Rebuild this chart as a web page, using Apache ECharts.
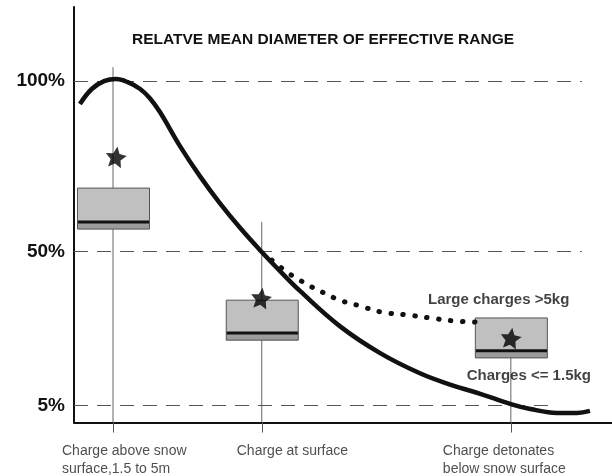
<!DOCTYPE html>
<html>
<head>
<meta charset="utf-8">
<script src="https://cdn.jsdelivr.net/npm/echarts@6/dist/echarts.min.js"></script>
<style>html,body{margin:0;padding:0;background:#fff}#chart{width:612px;height:476px}</style>
</head>
<body>
<div id="chart"></div>
<script>
// ---- data ----
const titleText = 'RELATVE MEAN DIAMETER OF EFFECTIVE RANGE';
const categories = ['Charge above snow\nsurface,1.5 to 5m', 'Charge at surface', 'Charge detonates\nbelow snow surface'];
const categoryX = [7.25, 34.9, 81.2];
const yTicks = [5, 50, 100];
const curveX = [1.1, 3.3, 5.6, 7.8, 10.0, 12.3, 14.1, 16.0, 19.7, 23.4, 27.1, 30.9, 34.9, 38.3, 42.0, 49.4, 56.9, 64.3, 69.9, 75.5, 81.2, 84.8, 89.8, 93.5, 95.9];
const curveY = [93.2, 97.6, 99.9, 100.5, 99.6, 97.6, 94.9, 90.8, 80.9, 72.1, 64.2, 56.9, 49.9, 44.3, 38.5, 28.2, 20.3, 14.4, 11.1, 8.4, 5.4, 3.95, 2.8, 2.8, 3.4];
const largeX = [36.8, 39.6, 41.6, 43.9, 46.1, 49.4, 53.2, 57.2, 61.9, 66.2, 70.8, 74.7];
const largeY = [47.5, 44.0, 42.0, 39.9, 38.2, 35.8, 34.1, 32.3, 31.5, 30.6, 29.7, 29.4];
const whiskerTop = [104.0, 58.7, 30.6];
const boxTop = [68.6, 35.8, 30.6];
const boxMedian = [58.7, 26.2, 21.0];
const boxBottom = [56.6, 24.1, 18.9];
const starX = [7.8, 34.8, 81.2];
const starY = [77.7, 36.4, 24.7];
const annotations = ['Large charges >5kg', 'Charges <= 1.5kg'];
const annotationX = [65.8, 73.0];
const annotationY = [35.8, 13.6];

// ---- styles ----
const labelOffsets = [-51, -25, -68];
const gridEnds = {5: 89.0, 50: 94.4, 100: 94.4};
const starPath = 'path://M50,2 L64.1,32.6 L97.6,36.5 L72.8,59.4 L79.4,92.5 L50,76 L20.6,92.5 L27.2,59.4 L2.4,36.5 L35.9,32.6 Z';

const chart = echarts.init(document.getElementById('chart'), null, {renderer: 'canvas'});

const option = {
  animation: false,
  backgroundColor: '#fff',
  title: {
    text: titleText,
    left: 127, top: 27,
    textStyle: {fontFamily: 'Liberation Sans, Arial, sans-serif', fontSize: 15.5, fontWeight: 'bold', color: '#111'}
  },
  grid: {left: 74, right: 0, top: 7, bottom: 53.5},
  xAxis: {
    type: 'value', min: 0, max: 100,
    axisLine: {show: true, lineStyle: {color: '#111', width: 2}},
    axisTick: {show: true, customValues: categoryX, length: 10, lineStyle: {color: '#555', width: 1}},
    axisLabel: {show: false},
    splitLine: {show: false}
  },
  yAxis: {
    type: 'value', min: 0, max: 121.6,
    axisLine: {show: true, lineStyle: {color: '#111', width: 2}},
    axisTick: {show: false},
    splitLine: {show: false},
    axisLabel: {
      customValues: yTicks,
      formatter: '{value}%',
      margin: 9,
      padding: [0, 0, 10, 0],
      fontFamily: 'Liberation Sans, Arial, sans-serif',
      fontSize: 19, fontWeight: 'bold', color: '#111'
    }
  },
  series: [
    {
      name: 'reference lines',
      type: 'line', data: [], silent: true,
      markLine: {
        silent: true, symbol: 'none', label: {show: false},
        lineStyle: {color: '#555', width: 1, type: [14, 9]},
        data: yTicks.map(v => [{coord: [0, v]}, {coord: [gridEnds[v], v]}])
      }
    },
    {
      name: 'boxes',
      type: 'custom', z: 3,
      data: categoryX.map((x, i) => [x, whiskerTop[i], boxTop[i], boxMedian[i], boxBottom[i]]),
      renderItem: function (params, api) {
        const x = api.value(0);
        const pTop = api.coord([x, api.value(1)]);
        const pBase = api.coord([x, 0]);
        const pBT = api.coord([x, api.value(2)]);
        const pMed = api.coord([x, api.value(3)]);
        const pBB = api.coord([x, api.value(4)]);
        const w = 72;
        const left = pTop[0] - w / 2 + 0.5;
        return {
          type: 'group',
          children: [
            {type: 'line', shape: {x1: pTop[0], y1: pTop[1], x2: pBase[0], y2: pBase[1]}, style: {stroke: '#666', lineWidth: 1}},
            {type: 'rect', shape: {x: left, y: pBT[1], width: w, height: pBB[1] - pBT[1]}, style: {fill: '#c0c0c0', stroke: null}},
            {type: 'rect', shape: {x: left, y: pMed[1], width: w, height: pBB[1] - pMed[1]}, style: {fill: '#9c9c9c', stroke: null}},
            {type: 'line', shape: {x1: left, y1: pMed[1], x2: left + w, y2: pMed[1]}, style: {stroke: '#111', lineWidth: 3}},
            {type: 'rect', shape: {x: left, y: pBT[1], width: w, height: pBB[1] - pBT[1]}, style: {fill: null, stroke: '#555', lineWidth: 1}}
          ]
        };
      }
    },
    {
      name: 'Large charges',
      type: 'line', smooth: 0.4, showSymbol: false, z: 4,
      data: largeX.map((x, i) => [x, largeY[i]]),
      lineStyle: {color: '#111', width: 5, type: [0.5, 11.5], cap: 'round'}
    },
    {
      name: 'Mean diameter',
      type: 'line', smooth: 0.4, showSymbol: false, z: 5,
      data: curveX.map((x, i) => [x, curveY[i]]),
      lineStyle: {color: '#111', width: 4.5}
    },
    {
      name: 'stars',
      type: 'scatter', z: 6,
      symbol: starPath, symbolSize: 21, symbolRotate: -8,
      itemStyle: {color: '#000'},
      data: starX.map((x, i) => [x, starY[i]])
    },
    {
      name: 'annotations',
      type: 'scatter', z: 7, symbolSize: 0, clip: false,
      data: annotationX.map((x, i) => ({value: [x, annotationY[i]], name: annotations[i]})),
      label: {
        show: true, position: [0, 0], align: 'left', verticalAlign: 'middle',
        formatter: p => p.name,
        fontFamily: 'Liberation Sans, Arial, sans-serif', fontSize: 15, fontWeight: 'bold', color: '#111'
      }
    },
    {
      name: 'category labels',
      type: 'scatter', z: 7, symbolSize: 0, clip: false,
      data: categoryX.map((x, i) => ({
        value: [x, 0], name: categories[i],
        label: {offset: [labelOffsets[i], 0]}
      })),
      label: {
        show: true, position: [0, 20], align: 'left', verticalAlign: 'top',
        formatter: p => p.name, lineHeight: 18,
        fontFamily: 'Liberation Sans, Arial, sans-serif', fontSize: 14, color: '#222'
      }
    }
  ]
};
chart.setOption(option);
</script>
</body>
</html>
